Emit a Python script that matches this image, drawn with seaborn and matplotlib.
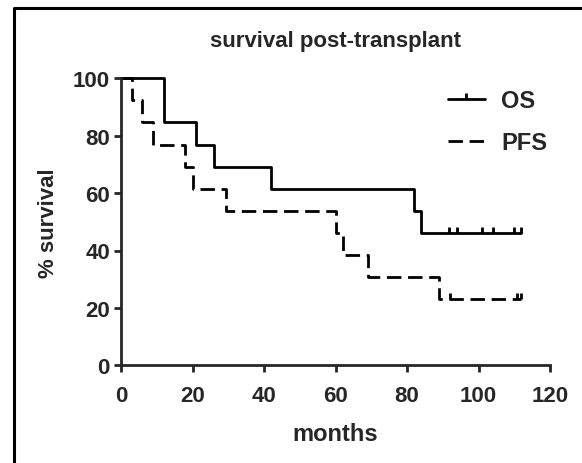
import pandas as pd
import matplotlib.pyplot as plt
import seaborn as sns
from matplotlib.lines import Line2D

# === data ===
os_months = [0, 12, 21, 26, 42, 82, 84, 112]
os_surv = [100, 84.6, 76.9, 69.2, 61.5, 53.8, 46.2, 46.2]
os_censored = [91.7, 94.1, 101, 104, 110, 112]

pfs_months = [0, 3, 6, 9, 18, 20, 29.5, 60, 62, 69, 89, 112]
pfs_surv = [100, 92.3, 84.6, 76.9, 69.2, 61.5, 53.8, 46.2, 38.5, 30.8, 23.1, 23.1]
pfs_censored = [92, 110.7, 112]

x_ticks = [0, 20, 40, 60, 80, 100, 120]
y_ticks = [0, 20, 40, 60, 80, 100]

df = pd.concat([
    pd.DataFrame({"months": os_months, "survival": os_surv, "curve": "OS"}),
    pd.DataFrame({"months": pfs_months, "survival": pfs_surv, "curve": "PFS"}),
])

sns.set_style("ticks")
plt.rcParams["font.family"] = ["Liberation Sans", "DejaVu Sans"]
plt.rcParams["font.weight"] = "bold"

LW = 2.0
DASH = (5.2, 2.4)
FS = 16

fig = plt.figure(figsize=(5.82, 4.64), dpi=100)
ax = fig.add_axes([121 / 582, 1 - 366.3 / 464, (550 - 121) / 582, (366.3 - 79.3) / 464])

sns.lineplot(data=df, x="months", y="survival", hue="curve", style="curve",
             palette={"OS": "black", "PFS": "black"},
             dashes={"OS": "", "PFS": DASH},
             estimator=None, sort=False, drawstyle="steps-post",
             linewidth=LW, legend=False, ax=ax, clip_on=False)

# censor ticks
for times, months, surv in [(os_censored, os_months, os_surv), (pfs_censored, pfs_months, pfs_surv)]:
    s = pd.Series(surv, index=months)
    levels = [s[s.index <= t].iloc[-1] for t in times]
    ax.plot(times, levels, linestyle="none", marker=2, markersize=4.5,
            markeredgewidth=LW, color="black", clip_on=False)

ax.set_xlim(0, 120)
ax.set_ylim(0, 100)
ax.set_xticks(x_ticks)
ax.set_yticks(y_ticks)
sns.despine(ax=ax)
for sp in ["left", "bottom"]:
    ax.spines[sp].set_linewidth(LW)
ax.tick_params(axis="both", length=5, width=LW, labelsize=FS)
ax.tick_params(axis="x", pad=9)
ax.tick_params(axis="y", pad=3)
for lab in ax.get_xticklabels() + ax.get_yticklabels():
    lab.set_fontweight("bold")

ax.set_xlabel("months", fontsize=FS + 1, fontweight="bold", labelpad=12)
ax.set_ylabel("% survival", fontsize=FS, fontweight="bold", labelpad=10)
ax.set_title("survival post-transplant", fontsize=FS, fontweight="bold", pad=23)

handles = [
    Line2D([], [], color="black", lw=LW, marker=2, markersize=4.5, markeredgewidth=LW),
    Line2D([], [], color="black", lw=LW, dashes=DASH),
]
fig.legend(handles, ["OS", "PFS"], loc="upper left", bbox_to_anchor=(448 / 582, 1 - 90 / 464),
           frameon=False, borderpad=0, borderaxespad=0, handlelength=1.55,
           handletextpad=0.7, labelspacing=0.8, numpoints=1,
           prop={"size": FS + 1, "weight": "bold"})

# frame around the figure (left and top edges visible)
fig.add_artist(Line2D([14 / 582, 14 / 582, 1.0], [0.0, 1 - 9 / 464, 1 - 9 / 464],
                      transform=fig.transFigure, color="black", lw=2.2))

plt.savefig("out.png", dpi=100)
plt.close()
